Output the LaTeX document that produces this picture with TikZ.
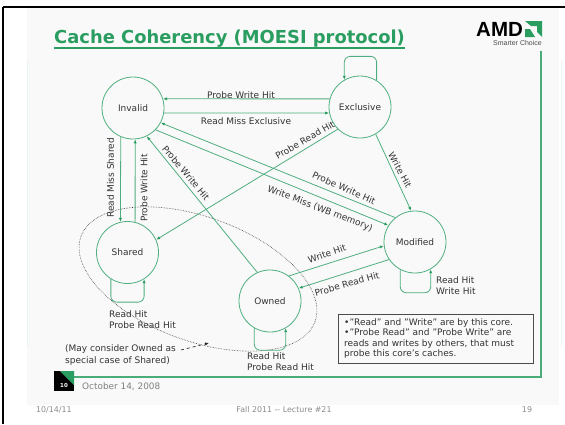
\documentclass[tikz,border=0pt]{standalone}
\usepackage{fontspec}
\setmainfont{DejaVu Sans}
\newfontfamily\logofont{Liberation Sans}
\usetikzlibrary{arrows.meta}
\definecolor{gr}{HTML}{4FAE7F}
\definecolor{tgr}{HTML}{2A9D60}
\definecolor{txt}{HTML}{333333}
\tikzset{
 x=1pt,y=-1pt,
 state/.style={circle,draw=gr,line width=.8pt,minimum size=62pt,inner sep=0,text=txt,font=\fontsize{9}{10}\selectfont},
 link/.style={draw=gr,line width=.8pt,-{Latex[length=4pt,width=3.2pt,color=tgr]}},
 loopl/.style={link,rounded corners=6pt},
 lab/.style={text=txt,inner sep=0,font=\fontsize{9}{11.2}\selectfont},
 multi/.style={lab,align=left,anchor=west},
 foot/.style={text=black!45,inner sep=0,font=\fontsize{7.9}{9}\selectfont},
}
\begin{document}
\begin{tikzpicture}
\useasboundingbox (0,0) rectangle (565,424);
\fill[white] (0,0) rectangle (565,424);
\fill[black!2.5] (27,8) rectangle (559,405);
\fill[gr!12] (27,60) rectangle (28,347);
\fill[gr!12] (561,60) rectangle (562,347);
\draw[line width=2pt] (3,7) -- (565,7) (3,7) -- (3,424);
% frame
\draw[tgr!85!white,line width=1.2pt] (541,51) -- (541,377) -- (74,377);
\fill[black] (54,371) rectangle (74,391);
\fill[tgr] (60,371) -- (74,371) -- (74,385) -- cycle;
\node[text=white,inner sep=0,font=\bfseries\fontsize{5.5}{6}\selectfont] (num) at (64,385) {10};
\node[foot,text=black!50,font=\fontsize{8.9}{10}\selectfont,anchor=west] (date) at (82,387) {October 14, 2008};
% title
\node[anchor=west,inner sep=0,text=tgr,font=\bfseries\fontsize{17.9}{20}\selectfont] (title) at (54,39) {Cache Coherency (MOESI protocol)};
\draw[tgr,line width=1.4pt] (title.west |- 0,48) -- (title.east |- 0,48);
% logo
\node[anchor=west,inner sep=0,font=\logofont\bfseries\fontsize{20.5}{22}\selectfont] (amd) at (476,29) {AMD};
\fill[tgr] (525,21) -- (542,21) -- (542,37) -- (537,32) -- (537,26) -- (531,26) -- cycle;
\fill[tgr] (525,37) -- (525,29) -- (530,29) -- (535,37) -- cycle;
\node[anchor=east,inner sep=0,text=black!70,font=\logofont\fontsize{7}{8}\selectfont] (sc) at (542,43) {Smarter Choice};
% states
\node[state] (inv) at (133,108) {Invalid};
\node[state] (exc) at (360,107) {Exclusive};
\node[state] (sha) at (127.5,252.5) {Shared};
\node[state] (own) at (270,301) {Owned};
\node[state] (mod) at (415,242) {Modified};
% ellipse
\draw[densely dotted,black!75,line width=.6pt,rotate around={-20:(198,279)}] (198,279) ellipse [x radius=124.5,y radius=62];
% links
\draw[link] (exc.165) -- (inv.17);
\draw[link] (inv.-9) -- (exc.191);
\draw[link] (mod.129) -- (inv.-28);
\draw[link] (inv.-44) -- (mod.148);
\draw[link] (exc.225) -- (sha.24);
\draw[link] (own.114) -- (inv.-64);
\draw[link] (inv.-113) -- (sha.103);
\draw[link] (sha.76) -- (inv.-86);
\draw[link] (exc.-60) -- (mod.97);
\draw[link] (own.53) -- (mod.187);
\draw[link] (mod.214) -- (own.24);
% self loops
\draw[loopl] (exc.58) -- ++(0,-24) -| (exc.120);
\draw[loopl] (sha.-122) -- ++(0,23) -| (sha.-58);
\draw[loopl] (own.-120) -- ++(0,22) -| (own.-60);
\draw[loopl] (mod.-118) -- ++(0,23) -| (mod.-60);
% labels
\node[lab] (l1) at (241,95) {Probe Write Hit};
\node[lab] (l2) at (246,121) {Read Miss Exclusive};
\node[lab,rotate=90] (l3) at (110.5,178) {Read Miss Shared};
\node[lab,rotate=90] (l4) at (144,188) {Probe Write Hit};
\node[lab,rotate=-50] (l5) at (186,173) {Probe Write Hit};
\node[lab,rotate=30] (l6) at (305,140) {Probe Read Hit};
\node[lab,rotate=-62] (l7) at (400,170) {Write Hit};
\node[lab,rotate=-24] (l8) at (344,188) {Probe Write Hit};
\node[lab,rotate=-21] (l9) at (320,209) {Write Miss (WB memory)};
\node[lab,rotate=19] (l10) at (327,254) {Write Hit};
\node[lab,rotate=16] (l11) at (347,284) {Probe Read Hit};
\node[multi] (l12) at (109,320) {Read Hit\\Probe Read Hit};
\node[multi] (l13) at (247,362) {Read Hit\\Probe Read Hit};
\node[multi] (l14) at (436,286) {Read Hit\\Write Hit};
\node[multi] (note) at (65,355) {(May consider Owned as\\special case of Shared)};
\coordinate (tip) at (209,343);
\draw[dashed,black!85,line width=.7pt,-{Latex[length=4pt,width=3.2pt]}] (181,350) -- (tip);
% box
\node[draw=black!70,line width=1.1pt,anchor=north west,inner sep=0,minimum width=195pt,minimum height=49pt] (box) at (338,314) {};
\node[anchor=west,inner sep=0,text=txt,align=left,font=\fontsize{9}{10.5}\selectfont] (boxtext) at (344,338.5) {•"Read" and "Write" are by this core.\\•"Probe Read" and "Probe Write" are\\reads and writes by others, that must\\probe this core's caches.};
% footer
\node[foot,anchor=west] (f1) at (36,410) {10/14/11};
\node[foot] (f2) at (284,410) {Fall 2011 {-}{-} Lecture \#21};
\node[foot] (f3) at (527,410) {19};
\end{tikzpicture}
\end{document}
